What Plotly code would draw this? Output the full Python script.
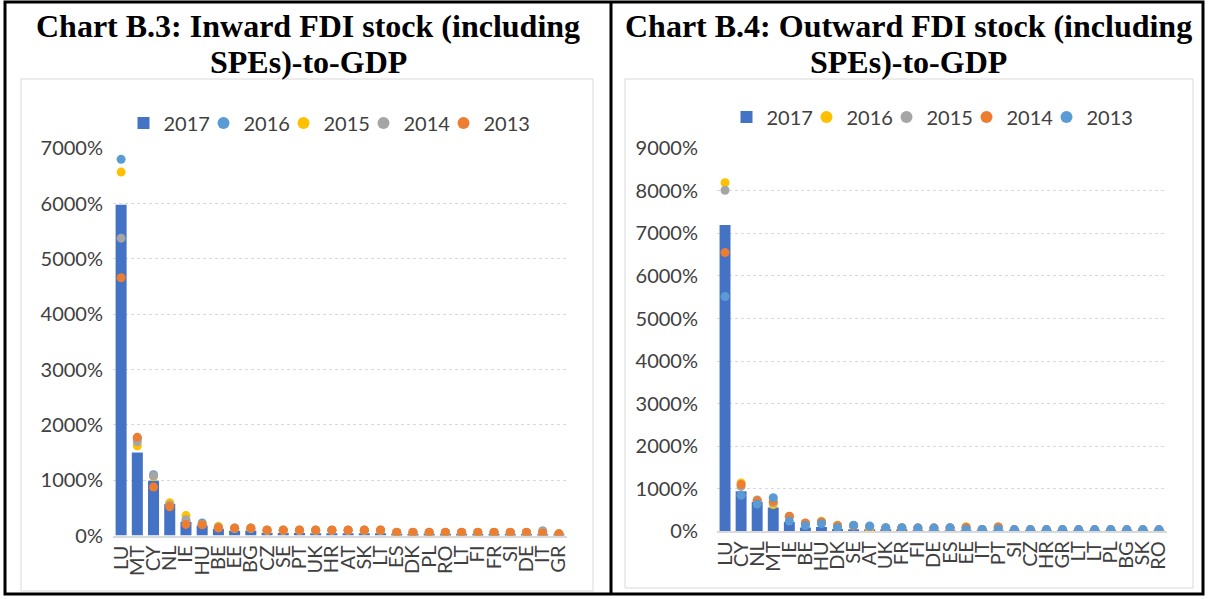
import plotly.graph_objects as go

W, H = 1208, 599

# ---------------- Data: Inward (Chart B.3) ----------------
cats_in = ["LU", "MT", "CY", "NL", "IE", "HU", "BE", "EE", "BG", "CZ", "SE", "PT", "UK", "HR",
           "AT", "SK", "LT", "ES", "DK", "PL", "RO", "LT", "FI", "FR", "SI", "DE", "IT", "GR"]
in_2017 = [5980, 1500, 990, 570, 245, 180, 120, 85, 90, 50, 45, 45, 40, 40,
           40, 40, 40, 30, 25, 30, 30, 30, 25, 25, 25, 25, 20, 15]
in_2016 = [6800, 1760, 1100, 580, 250, 225, 150, 130, 130, 95, 95, 95, 95, 95,
           95, 95, 95, 55, 55, 55, 55, 55, 55, 55, 55, 55, 70, 30]
in_2015 = [6570, 1620, 1065, 590, 360, 200, 165, 130, 130, 95, 95, 95, 95, 95,
           95, 95, 95, 55, 55, 55, 55, 55, 55, 55, 55, 55, 70, 30]
in_2014 = [5375, 1695, 1080, 550, 285, 200, 150, 130, 130, 95, 95, 95, 95, 95,
           95, 95, 95, 55, 55, 55, 55, 55, 55, 55, 55, 55, 85, 30]
in_2013 = [4660, 1775, 875, 520, 200, 195, 135, 135, 135, 100, 100, 100, 100, 100,
           100, 100, 100, 60, 60, 60, 60, 60, 60, 60, 60, 60, 45, 30]

# ---------------- Data: Outward (Chart B.4) ----------------
cats_out = ["LU", "CY", "NL", "MT", "IE", "BE", "HU", "DK", "SE", "AT", "UK", "FR", "FI", "DE",
            "ES", "EE", "IT", "PT", "SI", "CZ", "HR", "GR", "LT", "LT", "PL", "BG", "SK", "RO"]
out_2017 = [7200, 940, 690, 560, 220, 90, 100, 55, 50, 45, 35, 35, 20, 20,
            15, 10, 10, 10, 5, 5, 5, 5, 5, 5, 5, 5, 5, 5]
out_2016 = [8190, 1135, 720, 630, 340, 190, 235, 140, 130, 65, 80, 80, 75, 75,
            80, 105, 40, 90, 35, 35, 35, 35, 35, 35, 35, 35, 35, 35]
out_2015 = [8015, 1055, 735, 675, 350, 185, 220, 130, 130, 110, 80, 80, 75, 75,
            80, 90, 40, 100, 35, 35, 35, 35, 35, 35, 35, 35, 35, 35]
out_2014 = [6550, 1100, 720, 705, 355, 195, 220, 130, 130, 110, 80, 80, 75, 75,
            80, 90, 40, 100, 35, 35, 35, 35, 35, 35, 35, 35, 35, 35]
out_2013 = [5515, 845, 640, 790, 240, 135, 180, 85, 140, 125, 85, 85, 80, 80,
            85, 50, 45, 55, 40, 40, 40, 40, 40, 40, 40, 40, 40, 40]

in_ticks = [0, 1000, 2000, 3000, 4000, 5000, 6000, 7000]
out_ticks = [0, 1000, 2000, 3000, 4000, 5000, 6000, 7000, 8000, 9000]

BAR = "#4472C4"
BLUE = "#5B9BD5"
YEL = "#FFC000"
GRAY = "#A5A5A5"
ORANGE = "#ED7D31"
TXT = "#404040"
FONT = "Lato"
FS = 20
MS = 9

fig = go.Figure()

xi = list(range(len(cats_in)))
xo = list(range(len(cats_out)))

# Left chart traces
fig.add_trace(go.Bar(x=xi, y=in_2017, name="2017", marker=dict(color=BAR, line=dict(width=0)),
                     width=0.68, xaxis="x", yaxis="y", legend="legend"))
for name, vals, col in [("2016", in_2016, BLUE), ("2015", in_2015, YEL),
                        ("2014", in_2014, GRAY), ("2013", in_2013, ORANGE)]:
    fig.add_trace(go.Scatter(x=xi, y=vals, name=name, mode="markers",
                             marker=dict(color=col, size=MS, line=dict(width=0)),
                             legendwidth=(50 if name == "2013" else None),
                             xaxis="x", yaxis="y", legend="legend"))

# Right chart traces
fig.add_trace(go.Bar(x=xo, y=out_2017, name="2017", marker=dict(color=BAR, line=dict(width=0)),
                     width=0.68, xaxis="x2", yaxis="y2", legend="legend2"))
for name, vals, col in [("2016", out_2016, YEL), ("2015", out_2015, GRAY),
                        ("2014", out_2014, ORANGE), ("2013", out_2013, BLUE)]:
    fig.add_trace(go.Scatter(x=xo, y=vals, name=name, mode="markers",
                             marker=dict(color=col, size=MS, line=dict(width=0)),
                             legendwidth=(50 if name == "2013" else None),
                             xaxis="x2", yaxis="y2", legend="legend2"))


def px_x(p):
    return p / W


def px_y(p):
    return (H - p) / H


common_x = dict(tickangle=-90, tickfont=dict(family=FONT, size=FS, color=TXT),
                showgrid=False, showline=True, linecolor="#D9D9D9", linewidth=2,
                ticks="", zeroline=False, tickmode="array", automargin=False)
common_y = dict(tickfont=dict(family=FONT, size=FS, color=TXT), showgrid=True,
                gridcolor="#D9D9D9", griddash="dot", gridwidth=1, zeroline=False,
                showline=False, ticks="", tickmode="array", automargin=False)

legend_common = dict(orientation="h", xanchor="center", yanchor="middle",
                     font=dict(family=FONT, size=FS, color=TXT), bgcolor="rgba(0,0,0,0)",
                     itemsizing="constant", entrywidth=35, entrywidthmode="pixels",
                     itemwidth=30)

fig.update_layout(
    template="none",
    width=W, height=H,
    margin=dict(l=0, r=0, t=0, b=0, autoexpand=False),
    paper_bgcolor="white", plot_bgcolor="white",
    bargap=0.3,
    xaxis=dict(domain=[px_x(113), px_x(567)], range=[-0.5, len(cats_in) - 0.5],
               tickvals=xi, ticktext=cats_in, anchor="y", **common_x),
    yaxis=dict(domain=[px_y(535.5), px_y(148.3)], range=[0, 7000],
               tickvals=in_ticks, ticktext=[f"{v}%" for v in in_ticks], anchor="x",
               ticklabelstandoff=9, **common_y),
    xaxis2=dict(domain=[px_x(717), px_x(1167)], range=[-0.5, len(cats_out) - 0.5],
                tickvals=xo, ticktext=cats_out, anchor="y2", **common_x),
    yaxis2=dict(domain=[px_y(531.3), px_y(148.3)], range=[0, 9000],
                tickvals=out_ticks, ticktext=[f"{v}%" for v in out_ticks], anchor="x2",
                ticklabelstandoff=18, **common_y),
    legend=dict(x=px_x(331), y=px_y(123), **legend_common),
    legend2=dict(x=px_x(934), y=px_y(117), **legend_common),
)

shapes = [
    # outer table border
    dict(type="rect", xref="paper", yref="paper", x0=px_x(5), x1=px_x(1203), y0=px_y(594), y1=px_y(2),
         line=dict(color="black", width=3)),
    # divider
    dict(type="line", xref="paper", yref="paper", x0=px_x(611), x1=px_x(611), y0=px_y(594), y1=px_y(2),
         line=dict(color="black", width=3)),
    # inner chart boxes
    dict(type="rect", xref="paper", yref="paper", x0=px_x(21), x1=px_x(593), y0=px_y(591), y1=px_y(79),
         line=dict(color="#D9D9D9", width=1)),
    dict(type="rect", xref="paper", yref="paper", x0=px_x(625), x1=px_x(1193), y0=px_y(588), y1=px_y(79),
         line=dict(color="#D9D9D9", width=1)),
]
fig.update_layout(shapes=shapes)

titles = [(308, "Chart B.3: Inward FDI stock (including", "SPEs)-to-GDP"),
          (908, "Chart B.4: Outward FDI stock (including", "SPEs)-to-GDP")]
for cx, l1, l2 in titles:
    for cy, txt in [(26, l1), (62, l2)]:
        fig.add_annotation(x=px_x(cx), y=px_y(cy), xref="paper", yref="paper", xanchor="center",
                           yanchor="middle", showarrow=False, align="center",
                           text=f"<b>{txt}</b>",
                           font=dict(family="Liberation Serif", size=32, color="black"))

fig.write_html("out.html", config={"displayModeBar": False},
               post_script="document.body.style.margin='0px';")
